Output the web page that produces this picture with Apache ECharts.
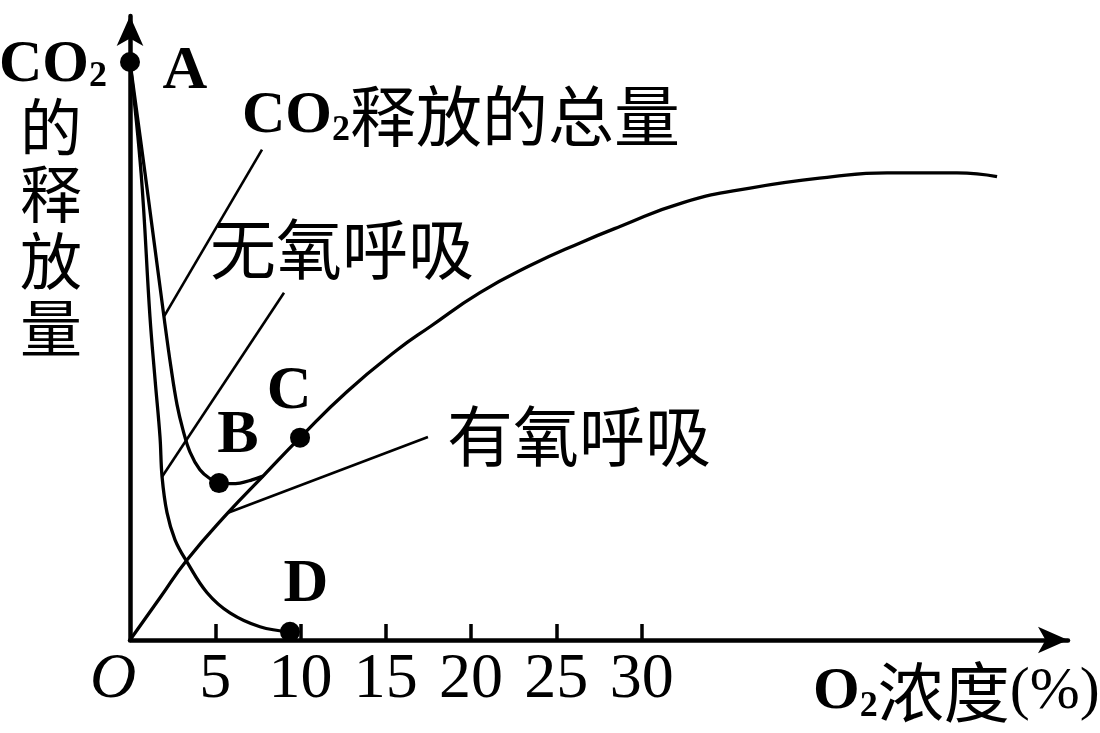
<!DOCTYPE html>
<html>
<head>
<meta charset="utf-8">
<title>CO2释放量与O2浓度</title>
<script src="https://cdn.jsdelivr.net/npm/echarts@6/dist/echarts.min.js"></script>
<style>
  html, body { margin: 0; padding: 0; background: #fff; }
  #chart { width: 1100px; height: 733px; }
</style>
</head>
<body>
<div id="chart"></div>
<script>
// 横轴: O2浓度(%)
const o2TickValues = [5, 10, 15, 20, 25, 30];
const o2LabelValues = [0, 5, 10, 15, 20, 25, 30];

// CO2释放的总量 [O2浓度, 相对释放量]
const totalRelease = [[0, 91.7], [0.88, 74.1], [1.99, 51.3], [2.40, 43.3], [2.76, 37.3], [3.11, 33.3], [3.52, 29.8], [4.10, 27.0], [4.69, 25.6], [5.22, 24.9], [5.86, 24.8], [6.45, 24.9], [7.15, 25.4], [7.80, 26.0]];
// 无氧呼吸
const anaerobicRelease = [[0, 91.7], [0.65, 74.1], [1.17, 51.3], [1.47, 41.3], [1.76, 32.2], [1.88, 25.9], [2.17, 20.2], [2.64, 15.9], [3.34, 12.4], [4.52, 7.5], [5.86, 4.3], [7.62, 2.1], [9.38, 1.3]];
// 有氧呼吸
const aerobicRelease = [[0, 0], [1.76, 6.7], [3.34, 12.7], [5.75, 20.2], [7.80, 26.0], [9.97, 32.1], [12.72, 39.4], [15.66, 46.0], [17.59, 49.7], [20.52, 55.1], [23.46, 59.4], [26.39, 63.0], [28.73, 65.6], [32.43, 69.4], [36.36, 71.7], [41.22, 73.5], [44.39, 74.1], [48.49, 74.1], [50.84, 73.5]];

// 关键点 A B C D
const pointNames = ['A', 'B', 'C', 'D'];
const pointValues = [[0, 91.7], [5.22, 24.9], [9.97, 32.1], [9.38, 1.3]];

// 标注引线
const totalLeader = [[1.99, 51.3], [7.74, 77.8]];
const anaerobicLeader = [[1.88, 25.9], [9.03, 55.1]];
const aerobicLeader = [[5.75, 20.2], [17.47, 32.2]];

const SERIF = "'Liberation Serif', 'Times New Roman', serif";
const CJK = "'Noto Sans CJK SC', sans-serif";

const chart = echarts.init(document.getElementById('chart'));

// 曲线
const curve = (name, data, smooth) => ({
  name: name,
  type: 'line',
  data: data,
  smooth: smooth,
  symbol: 'none',
  lineStyle: { color: '#000', width: 3.3 },
  z: 3
});

// 引线
const leader = (data) => ({
  type: 'line',
  data: data,
  symbol: 'none',
  lineStyle: { color: '#000', width: 2.6 },
  z: 2
});

// 点标签的偏移
const labelOffsets = [[55, 10], [19, -47], [-11, -46], [16, -47]];

// 文字样式
const richText = {
  l: { fontFamily: SERIF, fontWeight: 'bold', fontSize: 60, color: '#000', verticalAlign: 'middle' },
  s: { fontFamily: SERIF, fontWeight: 'bold', fontSize: 36, color: '#000', verticalAlign: 'bottom', lineHeight: 28 },
  c: { fontFamily: CJK, fontSize: 66, color: '#000', verticalAlign: 'middle' },
  p: { fontFamily: SERIF, fontSize: 60, color: '#000', verticalAlign: 'middle' }
};

const option = {
  animation: false,
  backgroundColor: '#fff',
  grid: { left: 130, right: 32, top: 16, bottom: 93 },
  xAxis: {
    type: 'value',
    min: 0,
    max: 55,
    interval: 5,
    axisLine: {
      lineStyle: { color: '#000', width: 4.5 },
      symbol: ['none', 'arrow'],
      symbolSize: [20, 30]
    },
    axisTick: {
      show: true,
      inside: true,
      length: 16,
      customValues: o2TickValues,
      lineStyle: { color: '#000', width: 3.5 }
    },
    axisLabel: {
      customValues: o2LabelValues,
      margin: 8,
      color: '#000',
      fontFamily: SERIF,
      fontSize: 64,
      formatter: v => (v === 0 ? '{o|O}' : String(v)),
      rich: {
        o: { fontFamily: SERIF, fontStyle: 'italic', fontSize: 64, color: '#000', padding: [0, 34, 0, 0] }
      }
    },
    splitLine: { show: false }
  },
  yAxis: {
    type: 'value',
    min: 0,
    max: 99,
    axisLine: {
      show: true,
      lineStyle: { color: '#000', width: 4.5 },
      symbol: ['none', 'arrow'],
      symbolSize: [20, 30]
    },
    axisTick: { show: false },
    axisLabel: { show: false },
    splitLine: { show: false }
  },
  series: [
    curve('CO2释放的总量', totalRelease, 0.4),
    curve('无氧呼吸', anaerobicRelease, 0.4),
    curve('有氧呼吸', aerobicRelease, 0.5),
    leader(totalLeader),
    leader(anaerobicLeader),
    leader(aerobicLeader),
    {
      type: 'scatter',
      symbol: 'circle',
      symbolSize: 20,
      itemStyle: { color: '#000', opacity: 1 },
      z: 5,
      data: pointValues.map((v, i) => ({
        name: pointNames[i],
        value: v,
        label: { offset: labelOffsets[i] }
      })),
      label: {
        show: true,
        position: 'inside',
        formatter: p => p.name,
        color: '#000',
        opacity: 1,
        fontFamily: SERIF,
        fontWeight: 'bold',
        fontSize: 62
      }
    }
  ],
  graphic: [
    // 纵轴名称
    {
      type: 'text', x: 53, y: 65, z: 10,
      style: { text: '{l|CO}{s|2}', rich: richText, align: 'center', verticalAlign: 'middle' }
    },
    {
      type: 'text', x: 51, y: 94, z: 10,
      style: { text: '的\n释\n放\n量', font: '62px ' + CJK, lineHeight: 67, fill: '#000', align: 'center', verticalAlign: 'top' }
    },
    // 横轴名称
    {
      type: 'text', x: 813, y: 692, z: 10,
      style: { text: '{l|O}{s|2}{c|浓度}{p|(%)}', rich: richText, align: 'left', verticalAlign: 'middle' }
    },
    // 曲线名称
    {
      type: 'text', x: 242, y: 116, z: 10,
      style: { text: '{l|CO}{s|2}{c|释放的总量}', rich: richText, align: 'left', verticalAlign: 'middle' }
    },
    {
      type: 'text', x: 210, y: 249, z: 10,
      style: { text: '无氧呼吸', font: '66px ' + CJK, fill: '#000', align: 'left', verticalAlign: 'middle' }
    },
    {
      type: 'text', x: 447, y: 436, z: 10,
      style: { text: '有氧呼吸', font: '66px ' + CJK, fill: '#000', align: 'left', verticalAlign: 'middle' }
    }
  ]
};

chart.setOption(option);
window.addEventListener('resize', () => chart.resize());
</script>
</body>
</html>
